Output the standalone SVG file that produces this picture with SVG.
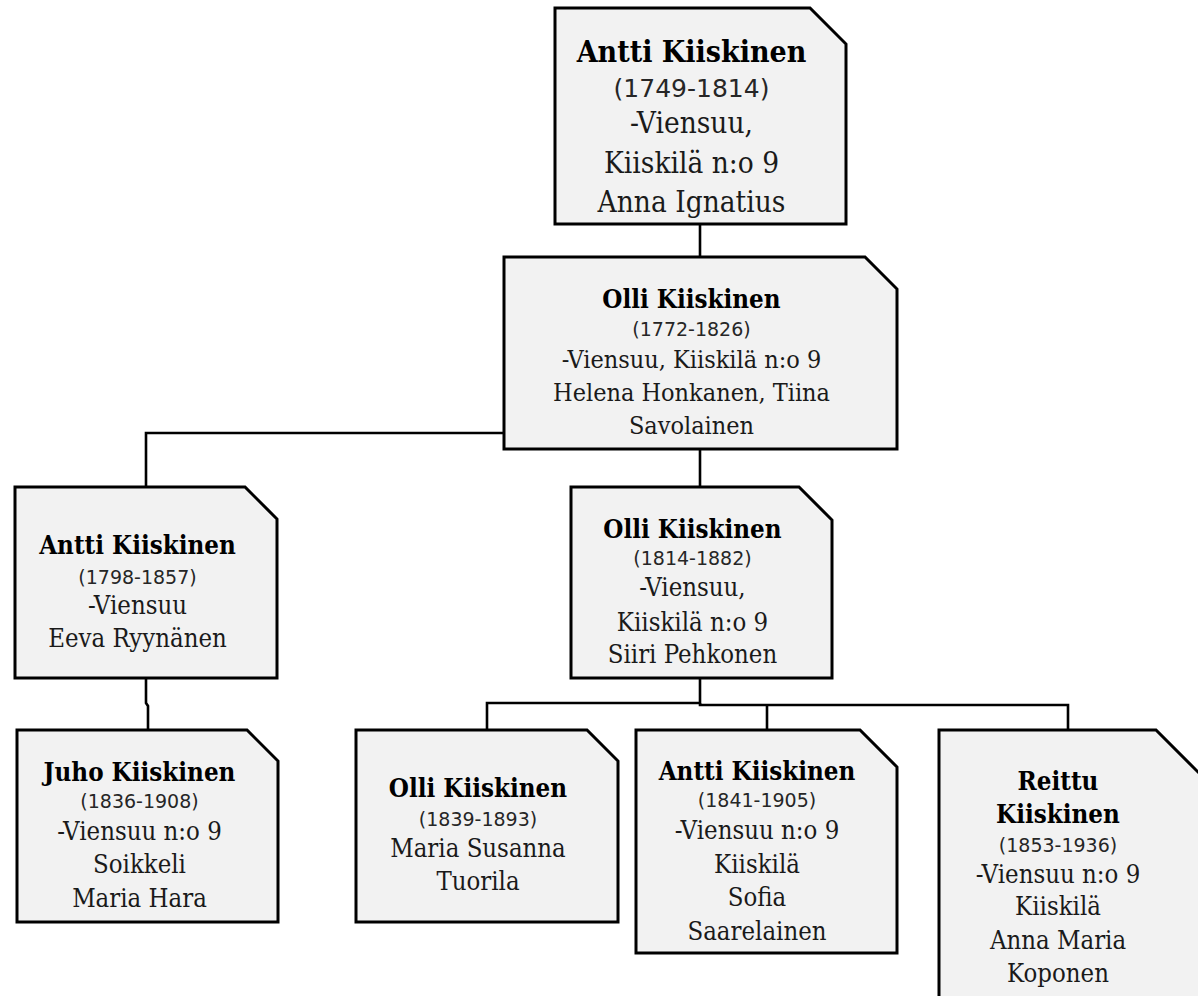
<svg xmlns="http://www.w3.org/2000/svg" width="1198" height="996" viewBox="0 0 1198 996">
<style>
.box{fill:#f2f2f2;stroke:#000;stroke-width:3;stroke-linejoin:miter}
.con{fill:none;stroke:#000;stroke-width:2.6}
text{text-anchor:middle}
.nm{font-family:"DejaVu Serif","Liberation Serif",serif;font-stretch:condensed;font-weight:bold;font-size:25.7px;fill:#000}
.dt{font-family:"DejaVu Sans","Liberation Sans",sans-serif;font-size:19px;fill:#262626}
.tx{font-family:"DejaVu Serif","Liberation Serif",serif;font-stretch:condensed;font-size:25.5px;fill:#1a1a1a}
.big .nm{font-size:30px}
.big .dt{font-size:25px}
.big .tx{font-size:29.5px}
.n2 .tx{font-size:25px}
</style>
<rect width="1198" height="996" fill="#fff"/>
<g id="connectors">
<path class="con" d="M700 224V257"/>
<path class="con" d="M700 449V487"/>
<path class="con" d="M504 433H146V487"/>
<path class="con" d="M146 678V703L148 706V730"/>
<path class="con" d="M700 678V703H487V730"/>
<path class="con" d="M700 703V705H1068V730"/>
<path class="con" d="M767 705V730"/>
</g>
<g id="n-antti-1749" class="big">
<polygon class="box" points="555,8 810,8 846,44 846,224 555,224"/>
<text class="nm" x="691.5" y="62">Antti Kiiskinen</text>
<text class="dt" x="691.5" y="97">(1749-1814)</text>
<text class="tx" x="691.5" y="133">-Viensuu,</text>
<text class="tx" x="691.5" y="173">Kiiskilä n:o 9</text>
<text class="tx" x="691.5" y="212">Anna Ignatius</text>
</g>
<g id="n-olli-1772" class="n2">
<polygon class="box" points="504,257 865,257 897,289 897,449 504,449"/>
<text class="nm" x="691.5" y="308">Olli Kiiskinen</text>
<text class="dt" x="691.5" y="336">(1772-1826)</text>
<text class="tx" x="691.5" y="368">-Viensuu, Kiiskilä n:o 9</text>
<text class="tx" x="691.5" y="401">Helena Honkanen, Tiina</text>
<text class="tx" x="691.5" y="434">Savolainen</text>
</g>
<g id="n-antti-1798">
<polygon class="box" points="15,487 245,487 277,519 277,678 15,678"/>
<text class="nm" x="137.5" y="554">Antti Kiiskinen</text>
<text class="dt" x="137.5" y="584">(1798-1857)</text>
<text class="tx" x="137.5" y="614">-Viensuu</text>
<text class="tx" x="137.5" y="647">Eeva Ryynänen</text>
</g>
<g id="n-olli-1814">
<polygon class="box" points="571,487 799,487 832,520 832,678 571,678"/>
<text class="nm" x="692.5" y="538">Olli Kiiskinen</text>
<text class="dt" x="692.5" y="565">(1814-1882)</text>
<text class="tx" x="692.5" y="596">-Viensuu,</text>
<text class="tx" x="692.5" y="631">Kiiskilä n:o 9</text>
<text class="tx" x="692.5" y="663">Siiri Pehkonen</text>
</g>
<g id="n-juho-1836">
<polygon class="box" points="17,730 247,730 278,761 278,922 17,922"/>
<text class="nm" x="139.5" y="781">Juho Kiiskinen</text>
<text class="dt" x="139.5" y="808">(1836-1908)</text>
<text class="tx" x="139.5" y="840">-Viensuu n:o 9</text>
<text class="tx" x="139.5" y="873">Soikkeli</text>
<text class="tx" x="139.5" y="907">Maria Hara</text>
</g>
<g id="n-olli-1839">
<polygon class="box" points="356,730 587,730 618,761 618,922 356,922"/>
<text class="nm" x="478" y="797">Olli Kiiskinen</text>
<text class="dt" x="478" y="826">(1839-1893)</text>
<text class="tx" x="478" y="857">Maria Susanna</text>
<text class="tx" x="478" y="890">Tuorila</text>
</g>
<g id="n-antti-1841">
<polygon class="box" points="636,730 860,730 897,767 897,953 636,953"/>
<text class="nm" x="757" y="780">Antti Kiiskinen</text>
<text class="dt" x="757" y="807">(1841-1905)</text>
<text class="tx" x="757" y="839">-Viensuu n:o 9</text>
<text class="tx" x="757" y="873">Kiiskilä</text>
<text class="tx" x="757" y="906">Sofia</text>
<text class="tx" x="757" y="940">Saarelainen</text>
</g>
<g id="n-reittu-1853">
<polygon class="box" points="939,730 1156,730 1200,774 1200,1006 939,1006"/>
<text class="nm" x="1058" y="790">Reittu</text>
<text class="nm" x="1058" y="823">Kiiskinen</text>
<text class="dt" x="1058" y="852">(1853-1936)</text>
<text class="tx" x="1058" y="883">-Viensuu n:o 9</text>
<text class="tx" x="1058" y="915">Kiiskilä</text>
<text class="tx" x="1058" y="949">Anna Maria</text>
<text class="tx" x="1058" y="982">Koponen</text>
</g>
</svg>
